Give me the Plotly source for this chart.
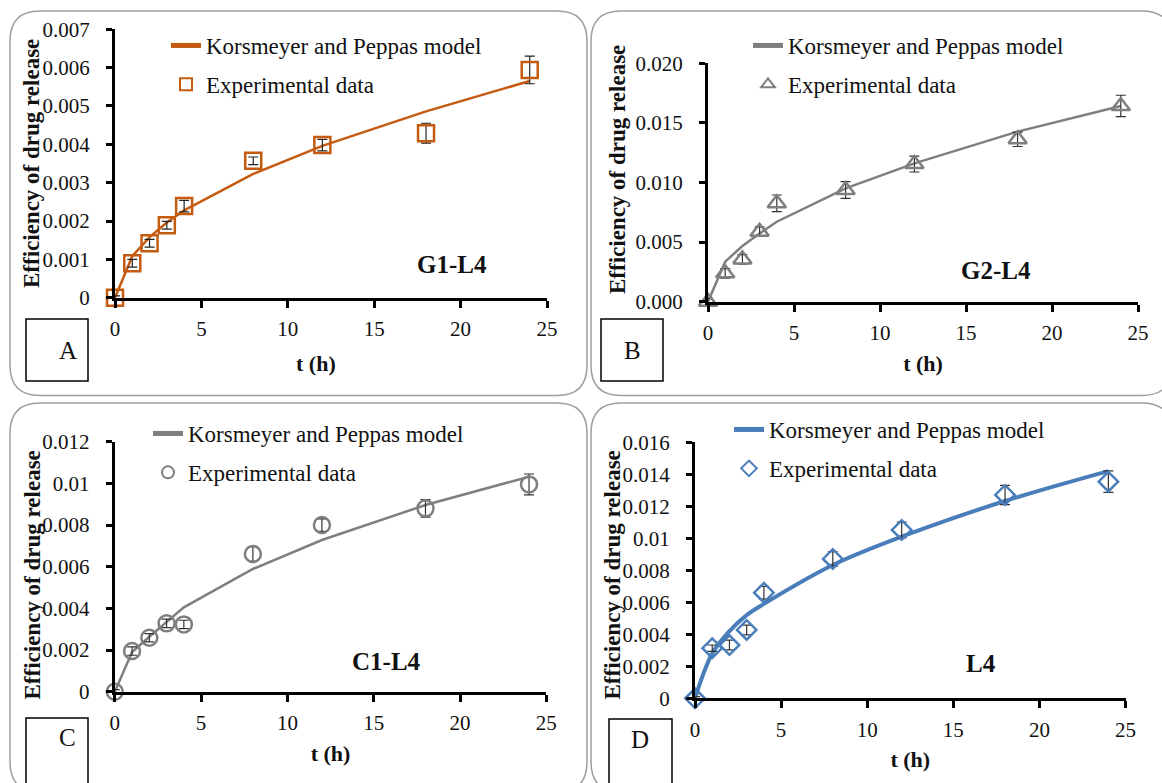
import plotly.graph_objects as go

# ---------------- data ----------------
t_hours = [0, 1, 2, 3, 4, 8, 12, 18, 24]

g1_exp = [0, 0.00090, 0.00142, 0.00189, 0.00239, 0.00357, 0.00398, 0.00429, 0.00594]
g1_err = [0.00005, 0.0001, 0.0001, 0.0001, 0.00015, 0.0001, 0.00015, 0.00026, 0.00036]
g1_model = [0, 0.00108, 0.00158, 0.00196, 0.00228, 0.00323, 0.00396, 0.00486, 0.00565]

g2_exp = [0, 0.00238, 0.00355, 0.00587, 0.00825, 0.00937, 0.01155, 0.01362, 0.01642]
g2_err = [0.0003, 0.0004, 0.0004, 0.0004, 0.0007, 0.0007, 0.00067, 0.0006, 0.0009]
g2_model = [0, 0.00336, 0.00467, 0.00573, 0.00671, 0.00951, 0.0116, 0.01427, 0.01642]

c1_exp = [0, 0.00195, 0.00259, 0.00328, 0.00323, 0.00661, 0.0080, 0.0088, 0.00995]
c1_err = [0.0001, 0.0002, 0.0002, 0.0002, 0.0002, 0.00035, 0.0003, 0.00042, 0.0005]
c1_model = [0, 0.00190, 0.00264, 0.00336, 0.00405, 0.00589, 0.00728, 0.00896, 0.01032]

l4_exp = [0, 0.00313, 0.00333, 0.00427, 0.0066, 0.00871, 0.01052, 0.01271, 0.01354]
l4_err = [0.0001, 0.0002, 0.0003, 0.0003, 0.0004, 0.00045, 0.0005, 0.0006, 0.00067]
l4_model = [0, 0.0028, 0.0042, 0.0052, 0.0059, 0.00833, 0.0101, 0.01233, 0.0142]

x_ticks = [0, 5, 10, 15, 20, 25]

yt_A = [0, 0.001, 0.002, 0.003, 0.004, 0.005, 0.006, 0.007]
yl_A = ["0", "0.001", "0.002", "0.003", "0.004", "0.005", "0.006", "0.007"]
yt_B = [0, 0.005, 0.010, 0.015, 0.020]
yl_B = ["0.000", "0.005", "0.010", "0.015", "0.020"]
yt_C = [0, 0.002, 0.004, 0.006, 0.008, 0.010, 0.012]
yl_C = ["0", "0.002", "0.004", "0.006", "0.008", "0.01", "0.012"]
yt_D = [0, 0.002, 0.004, 0.006, 0.008, 0.010, 0.012, 0.014, 0.016]
yl_D = ["0", "0.002", "0.004", "0.006", "0.008", "0.01", "0.012", "0.014", "0.016"]

model_name = "Korsmeyer and Peppas model"
exp_name = "Experimental data"
sample_names = ["G1-L4", "G2-L4", "C1-L4", "L4"]
panel_letters = ["A", "B", "C", "D"]
x_title = "t (h)"
y_title = "Efficiency of drug release"

# ---------------- layout helpers ----------------
W, H = 1162, 783
FONT = "Liberation Serif"


def px(x):
    return x / W


def py(y):
    return 1 - y / H


def rounded_path(x0, y0, x1, y1, r):
    pts = [
        ("M", [(x0 + r, y0)]),
        ("L", [(x1 - r, y0)]),
        ("Q", [(x1, y0), (x1, y0 + r)]),
        ("L", [(x1, y1 - r)]),
        ("Q", [(x1, y1), (x1 - r, y1)]),
        ("L", [(x0 + r, y1)]),
        ("Q", [(x0, y1), (x0, y1 - r)]),
        ("L", [(x0, y0 + r)]),
        ("Q", [(x0, y0), (x0 + r, y0)]),
    ]
    s = ""
    for cmd, ps in pts:
        s += cmd + " " + " ".join(f"{px(a):.5f},{py(b):.5f}" for a, b in ps) + " "
    return s + "Z"


panels = [
    dict(exp=g1_exp, err=g1_err, model=g1_model, color="#C55A11", symbol="square-open",
         msize=16, lw=2.5, shape="linear", yr=0.007, yt=yt_A, yl=yl_A,
         dom_x=(115, 547), dom_y=(29.3, 297.7), leg=(166, 24),
         sample=(19.5, 0.00087), errc="#222222", ytitle=(31.5, 163.5), xtitle=(316, 363)),
    dict(exp=g2_exp, err=g2_err, model=g2_model, color="#7F7F7F", symbol="triangle-up-open",
         msize=16, lw=2.5, shape="linear", yr=0.020, yt=yt_B, yl=yl_B,
         dom_x=(708, 1138), dom_y=(63.3, 301.7), leg=(748, 24),
         sample=(16.75, 0.0026), errc="#333333", ytitle=(617, 170), xtitle=None),
    dict(exp=c1_exp, err=c1_err, model=c1_model, color="#7F7F7F", symbol="circle-open",
         msize=16, lw=2.5, shape="linear", yr=0.012, yt=yt_C, yl=yl_C,
         dom_x=(114.8, 546.3), dom_y=(441.7, 691.7), leg=(148, 412),
         sample=(15.75, 0.00144), errc="#333333", ytitle=(31.5, 575), xtitle=None),
    dict(exp=l4_exp, err=l4_err, model=l4_model, color="#4A7EBB", symbol="diamond-open",
         msize=15, lw=4, shape="spline", yr=0.016, yt=yt_D, yl=yl_D,
         dom_x=(695, 1125.6), dom_y=(442.3, 698.3), leg=(729, 408),
         sample=(16.6, 0.00219), errc="#333333", ytitle=(611.5, 575), xtitle=None),
]

fig = go.Figure()
layout = dict(
    width=W, height=H,
    margin=dict(l=0, r=0, t=0, b=0, autoexpand=False),
    paper_bgcolor="white", plot_bgcolor="rgba(0,0,0,0)",
    font=dict(family=FONT, color="#111111"),
    showlegend=True,
)
shapes = []
annotations = []

box_rects = [(10, 11, 587, 395.5), (591, 11, 1172, 395.5), (10, 403, 587, 792), (591, 403, 1172, 792)]
letter_rects = [(26, 319, 88, 381), (601, 319, 663, 381), (26, 718, 88, 790), (609, 719, 672, 790)]
letter_pos = [(57, 350), (632, 350), (57, 753), (640, 755)]

for br in box_rects:
    shapes.append(dict(type="path", xref="paper", yref="paper", path=rounded_path(*br, 30),
                       line=dict(color="#9E9E9E", width=1.5), layer="below"))

for i, p in enumerate(panels):
    n = i + 1
    xa = "x" if n == 1 else f"x{n}"
    ya = "y" if n == 1 else f"y{n}"
    leg = "legend" if n == 1 else f"legend{n}"

    fig.add_trace(go.Scatter(
        x=t_hours, y=p["model"], mode="lines", name=model_name,
        line=dict(color=p["color"], width=p["lw"], shape=p["shape"]),
        xaxis=xa, yaxis=ya, legend=leg, legendgroup=f"m{n}", cliponaxis=False,
    ))
    fig.add_trace(go.Scatter(
        x=t_hours, y=p["exp"], mode="markers", name=exp_name,
        marker=dict(symbol=p["symbol"], size=p["msize"], color=p["color"],
                    line=dict(width=2.5, color=p["color"])),
        error_y=dict(type="data", array=p["err"], visible=True, color=p["errc"],
                     thickness=1.2, width=5),
        xaxis=xa, yaxis=ya, legend=leg, legendgroup=f"e{n}", cliponaxis=False,
    ))

    axis_common = dict(showline=True, linecolor="black", linewidth=3, ticks="outside",
                       tickwidth=3, tickcolor="black", showgrid=False, zeroline=False,
                       automargin=False,
                       tickfont=dict(family=FONT, size=21, color="#111111"))
    key_x = "xaxis" if n == 1 else f"xaxis{n}"
    key_y = "yaxis" if n == 1 else f"yaxis{n}"
    xaxis_def = dict(axis_common, domain=[px(p["dom_x"][0]), px(p["dom_x"][1])],
                     anchor=ya, range=[0, 25], tickvals=x_ticks, ticklen=7,
                     ticklabelstandoff=3)
    if p["xtitle"] is None:
        xaxis_def["title"] = dict(text=f"<b>{x_title}</b>", standoff=12,
                                  font=dict(family=FONT, size=22, color="#111111"))
    else:
        annotations.append(dict(x=px(p["xtitle"][0]), y=py(p["xtitle"][1]), xref="paper",
                                yref="paper", text=f"<b>{x_title}</b>", showarrow=False,
                                xanchor="center", yanchor="middle",
                                font=dict(family=FONT, size=22, color="#111111")))
    layout[key_x] = xaxis_def
    layout[key_y] = dict(axis_common, domain=[py(p["dom_y"][1]), py(p["dom_y"][0])],
                         anchor=xa, range=[0, p["yr"]], tickvals=p["yt"], ticktext=p["yl"],
                         ticklen=6, ticklabelstandoff=12)
    layout[leg] = dict(x=px(p["leg"][0]), y=py(p["leg"][1]), xanchor="left", yanchor="top",
                       bgcolor="rgba(0,0,0,0)", borderwidth=0, traceorder="grouped",
                       tracegroupgap=6, itemsizing="constant",
                       font=dict(family=FONT, size=23, color="#111111"))

    # y-axis title of this panel
    annotations.append(dict(x=px(p["ytitle"][0]), y=py(p["ytitle"][1]), xref="paper", yref="paper",
                            text=f"<b>{y_title}</b>", textangle=-90, showarrow=False,
                            xanchor="center", yanchor="middle",
                            font=dict(family=FONT, size=23, color="#111111")))

    annotations.append(dict(x=p["sample"][0], y=p["sample"][1], xref=xa, yref=ya,
                            text=f"<b>{sample_names[i]}</b>", showarrow=False,
                            font=dict(family=FONT, size=25, color="#111111")))

    lr = letter_rects[i]
    shapes.append(dict(type="rect", xref="paper", yref="paper",
                       x0=px(lr[0]), x1=px(lr[2]), y0=py(lr[3]), y1=py(lr[1]),
                       line=dict(color="black", width=1.5)))
    lp = letter_pos[i]
    annotations.append(dict(x=px(lp[0]), y=py(lp[1]), xref="paper", yref="paper",
                            text=panel_letters[i], showarrow=False,
                            font=dict(family=FONT, size=25, color="#111111")))

layout["shapes"] = shapes
layout["annotations"] = annotations
fig.update_layout(**layout)
fig.write_html(
    "out.html",
    config={"displayModeBar": False},
    post_script="document.body.style.margin='0px';document.body.style.overflow='hidden';",
)
